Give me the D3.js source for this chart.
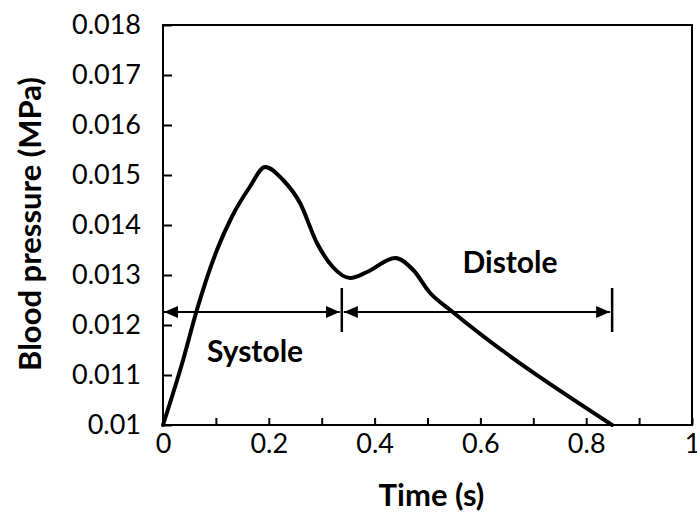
<!DOCTYPE html>
<html>
<head>
<meta charset="utf-8">
<script src="https://cdn.jsdelivr.net/npm/d3@7"></script>
<style>
  html, body { margin: 0; padding: 0; background: #fff; }
  svg { display: block; }
  text { font-family: Lato, "Open Sans", sans-serif; fill: #000; }
</style>
</head>
<body>
<svg id="chart" width="697" height="518"></svg>
<script>
// Arterial pressure waveform over one cardiac cycle
const timeS = [0, 0.038, 0.064, 0.102, 0.130, 0.164, 0.193, 0.227, 0.259, 0.291, 0.321, 0.354, 0.386, 0.439, 0.473, 0.505, 0.543, 0.849];
const pressureMPa = [0.0100, 0.0113, 0.0123, 0.0135, 0.01416, 0.01476, 0.01516, 0.0149, 0.01444, 0.01364, 0.01316, 0.01294, 0.01306, 0.01334, 0.0131, 0.01264, 0.0123, 0.0100];

// Phase boundaries (s) and the pressure level of the dimension arrows
const phaseBounds = [0, 0.338, 0.849];
const arrowLevel = 0.01226;
const phaseNames = ["Systole", "Distole"];
const phaseLabelTime = [0.174, 0.656];
const phaseLabelPressure = [0.01126, 0.01304];

// Axis ticks
const xTicks = [0, 0.1, 0.2, 0.3, 0.4, 0.5, 0.6, 0.7, 0.8, 0.9, 1];
const xTickLabels = ["0", "", "0.2", "", "0.4", "", "0.6", "", "0.8", "", "1"];
const yTicks = [0.010, 0.011, 0.012, 0.013, 0.014, 0.015, 0.016, 0.017, 0.018];
const yTickLabels = ["0.01", "0.011", "0.012", "0.013", "0.014", "0.015", "0.016", "0.017", "0.018"];

const svg = d3.select("#chart");
const margin = { left: 163, top: 25, right: 5, bottom: 93 };
const W = 697 - margin.left - margin.right;
const H = 518 - margin.top - margin.bottom;

const x = d3.scaleLinear().domain([0, 1]).range([0, W]);
const y = d3.scaleLinear().domain([0.010, 0.018]).range([H, 0]);

const g = svg.append("g").attr("transform", `translate(${margin.left},${margin.top})`);

// Arrowhead markers
const defs = svg.append("defs");
defs.append("marker")
  .attr("id", "arrow")
  .attr("viewBox", "0 0 14 12")
  .attr("refX", 14).attr("refY", 6)
  .attr("markerWidth", 14).attr("markerHeight", 12)
  .attr("markerUnits", "userSpaceOnUse")
  .attr("orient", "auto-start-reverse")
  .append("path").attr("d", "M0,0 L14,6 L0,12 Z").attr("fill", "#000");

// Y axis (ticks inside)
const yAxis = d3.axisLeft(y).tickValues(yTicks)
  .tickFormat((d, i) => yTickLabels[i]).tickSize(-9).tickPadding(22);
const yG = g.append("g").call(yAxis);
yG.select(".domain").remove();
yG.selectAll(".tick line").attr("stroke", "#000").attr("stroke-width", 2);
yG.selectAll(".tick text").style("font-size", "27px").attr("fill", "#000");

// X axis (ticks inside)
const xAxis = d3.axisBottom(x).tickValues(xTicks)
  .tickFormat((d, i) => xTickLabels[i]).tickSize(-7).tickPadding(9);
const xG = g.append("g").attr("transform", `translate(0,${H})`).call(xAxis);
xG.select(".domain").remove();
xG.selectAll(".tick line").attr("stroke", "#000").attr("stroke-width", 2);
xG.selectAll(".tick text").style("font-size", "27px").attr("fill", "#000");

// Plot frame
g.append("rect").attr("x", 0).attr("y", 0).attr("width", W).attr("height", H)
  .attr("fill", "none").attr("stroke", "#000").attr("stroke-width", 2);

// Pressure curve
const pts = timeS.map((t, i) => [t, pressureMPa[i]]);
const line = d3.line().x(d => x(d[0])).y(d => y(d[1])).curve(d3.curveMonotoneX);
g.append("path").datum(pts).attr("d", line)
  .attr("fill", "none").attr("stroke", "#000").attr("stroke-width", 4)
  .attr("stroke-linejoin", "round").attr("stroke-linecap", "round");

// Phase dimension arrows
for (let i = 0; i < phaseBounds.length - 1; i++) {
  const a = phaseBounds[i], b = phaseBounds[i + 1];
  g.append("line")
    .attr("x1", x(a) + (i === 0 ? 1 : 2)).attr("x2", x(b) - 2)
    .attr("y1", y(arrowLevel)).attr("y2", y(arrowLevel))
    .attr("stroke", "#000").attr("stroke-width", 2)
    .attr("marker-start", "url(#arrow)").attr("marker-end", "url(#arrow)");
}
// Boundary bars
phaseBounds.slice(1).forEach(t => {
  g.append("line")
    .attr("x1", x(t)).attr("x2", x(t))
    .attr("y1", y(arrowLevel) - 24).attr("y2", y(arrowLevel) + 20)
    .attr("stroke", "#000").attr("stroke-width", 2.5);
});

// Phase labels
phaseNames.forEach((name, i) => {
  g.append("text")
    .attr("x", x(phaseLabelTime[i])).attr("y", y(phaseLabelPressure[i]))
    .attr("text-anchor", "middle")
    .style("font-size", "30px").style("font-weight", "bold")
    .text(name);
});

// Axis titles
svg.append("text")
  .attr("x", margin.left + x(0.5) + 4).attr("y", 506)
  .attr("text-anchor", "middle")
  .style("font-size", "31px").style("font-weight", "bold")
  .text("Time (s)");

svg.append("text")
  .attr("transform", `translate(41,${margin.top + y(0.01402)}) rotate(-90)`)
  .attr("text-anchor", "middle")
  .style("font-size", "31px").style("font-weight", "bold")
  .text("Blood pressure (MPa)");
</script>
</body>
</html>
